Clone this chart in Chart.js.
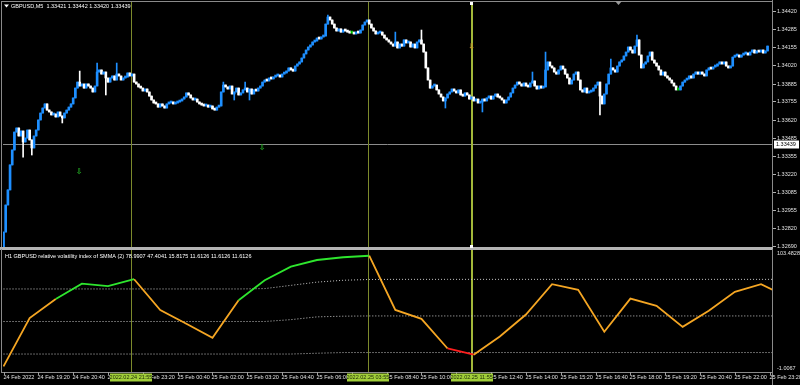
<!DOCTYPE html>
<html>
<head>
<meta charset="utf-8">
<script src="https://cdn.jsdelivr.net/npm/chart.js@4.4.1/dist/chart.umd.min.js"></script>
<style>
  html, body { margin: 0; padding: 0; background: #000; }
  #wrap { position: relative; width: 800px; height: 385px; overflow: hidden; background: #000; }
  #priceChart { position: absolute; left: 0; top: 0; }
  #rviChart { position: absolute; left: 0; top: 249px; }
</style>
</head>
<body>
<div id="wrap">
  <canvas id="priceChart" width="800" height="249"></canvas>
  <canvas id="rviChart" width="800" height="136"></canvas>
</div>
<script>
// GBPUSD M5 closes, 24 Feb 18:00 -> 25 Feb 23:15
const closes = [
  1.32793, 1.32992, 1.33103, 1.33287, 1.33397, 1.33529, 1.33559, 1.33500, 1.33537, 1.33456,
  1.33485, 1.33544, 1.33471, 1.33412, 1.33500, 1.33544, 1.33618, 1.33669, 1.33706, 1.33736,
  1.33691, 1.33677, 1.33655, 1.33662, 1.33640, 1.33677, 1.33647, 1.33633, 1.33669, 1.33691,
  1.33713, 1.33736, 1.33780, 1.33853, 1.33897, 1.33868, 1.33883, 1.33853, 1.33883, 1.33868,
  1.33853, 1.33824, 1.33868, 1.33971, 1.33986, 1.33956, 1.33971, 1.33927, 1.33897, 1.33927,
  1.33942, 1.33912, 1.33956, 1.33942, 1.33912, 1.33927, 1.33934, 1.33964, 1.33942, 1.33956,
  1.33897, 1.33883, 1.33861, 1.33853, 1.33831, 1.33846, 1.33824, 1.33794, 1.33765, 1.33743,
  1.33736, 1.33713, 1.33736, 1.33721, 1.33706, 1.33736, 1.33743, 1.33750, 1.33736, 1.33743,
  1.33750, 1.33758, 1.33772, 1.33787, 1.33817, 1.33802, 1.33780, 1.33765, 1.33772, 1.33750,
  1.33736, 1.33728, 1.33721, 1.33728, 1.33713, 1.33721, 1.33699, 1.33691, 1.33713, 1.33721,
  1.33824, 1.33875, 1.33861, 1.33846, 1.33868, 1.33809, 1.33824, 1.33853, 1.33802, 1.33817,
  1.33839, 1.33853, 1.33824, 1.33846, 1.33809, 1.33839, 1.33831, 1.33853, 1.33868, 1.33897,
  1.33912, 1.33905, 1.33927, 1.33920, 1.33934, 1.33942, 1.33949, 1.33934, 1.33956, 1.33964,
  1.33978, 1.34001, 1.33986, 1.33978, 1.34015, 1.34030, 1.34045, 1.34074, 1.34104, 1.34133,
  1.34155, 1.34170, 1.34192, 1.34199, 1.34221, 1.34214, 1.34229, 1.34236, 1.34324, 1.34376,
  1.34354, 1.34324, 1.34295, 1.34273, 1.34288, 1.34265, 1.34280, 1.34273, 1.34265, 1.34258,
  1.34258, 1.34251, 1.34265, 1.34258, 1.34280, 1.34317, 1.34339, 1.34354, 1.34324, 1.34295,
  1.34273, 1.34251, 1.34258, 1.34265, 1.34243, 1.34221, 1.34207, 1.34192, 1.34177, 1.34162,
  1.34192, 1.34148, 1.34177, 1.34162, 1.34207, 1.34185, 1.34192, 1.34155, 1.34177, 1.34148,
  1.34192, 1.34207, 1.34177, 1.34118, 1.34001, 1.33912, 1.33853, 1.33868, 1.33875, 1.33839,
  1.33809, 1.33787, 1.33758, 1.33780, 1.33809, 1.33824, 1.33846, 1.33831, 1.33817, 1.33839,
  1.33802, 1.33794, 1.33817, 1.33802, 1.33772, 1.33787, 1.33758, 1.33772, 1.33743, 1.33750,
  1.33772, 1.33758, 1.33780, 1.33794, 1.33772, 1.33794, 1.33809, 1.33787, 1.33780, 1.33765,
  1.33743, 1.33765, 1.33787, 1.33817, 1.33853, 1.33875, 1.33897, 1.33883, 1.33868, 1.33890,
  1.33868, 1.33861, 1.33890, 1.33905, 1.33868, 1.33846, 1.33868, 1.33853, 1.33861, 1.33986,
  1.34045, 1.34015, 1.34001, 1.33971, 1.33956, 1.33986, 1.34015, 1.33993, 1.33956, 1.33927,
  1.33883, 1.33912, 1.33956, 1.33971, 1.33912, 1.33839, 1.33824, 1.33853, 1.33817, 1.33824,
  1.33831, 1.33853, 1.33875, 1.33897, 1.33794, 1.33736, 1.33809, 1.33883, 1.33956, 1.34001,
  1.33986, 1.33971, 1.34015, 1.34045, 1.34059, 1.34089, 1.34118, 1.34155, 1.34133, 1.34111,
  1.34162, 1.34207, 1.34096, 1.34001, 1.34030, 1.34045, 1.34089, 1.34118, 1.34059, 1.34037,
  1.34015, 1.33986, 1.33949, 1.33971, 1.33942, 1.33927, 1.33912, 1.33890, 1.33868, 1.33839,
  1.33839, 1.33868, 1.33897, 1.33912, 1.33920, 1.33942, 1.33927, 1.33956, 1.33971, 1.33956,
  1.33971, 1.33956, 1.33942, 1.33986, 1.34001, 1.33993, 1.34008, 1.34015, 1.34030, 1.34045,
  1.34030, 1.34045, 1.34015, 1.34001, 1.34015, 1.34081, 1.34089, 1.34096, 1.34081, 1.34096,
  1.34104, 1.34111, 1.34096, 1.34118, 1.34133, 1.34111, 1.34126, 1.34118, 1.34133, 1.34111,
  1.34126, 1.34162
];
const firstOpen = 1.32676;
// longer wicks that stick out of the bodies: [bar, price]
const wickUp = [[35, 1.33978], [43, 1.34037], [52, 1.34037], [101, 1.33897], [111, 1.33897], [149, 1.34391],
  [180, 1.34265], [192, 1.34280], [243, 1.33971], [249, 1.34118], [279, 1.34067], [291, 1.34243]];
const wickDown = [[9, 1.33345], [13, 1.33360], [27, 1.33596], [47, 1.33802], [106, 1.33765], [113, 1.33765],
  [203, 1.33706], [220, 1.33677], [274, 1.33655]];

const priceTicks = [1.34420, 1.34285, 1.34155, 1.34020, 1.33885, 1.33755, 1.33620, 1.33485,
  1.33355, 1.33220, 1.33085, 1.32955, 1.32820, 1.32690];
const priceMin = 1.32683, priceMax = 1.34479;
const lastPrice = 1.33439;
const titleText = 'GBPUSD,M5  1.33421 1.33442 1.33420 1.33439';

// H1 relative volatility index, one value per hour from 24 Feb 18:00
const rviHours = [0, 1, 2, 3, 4, 5, 6, 7, 8, 9, 10, 11, 12, 13, 14, 15, 16, 17, 18, 19, 20, 21, 22, 23, 24, 25, 26, 27, 28, 29, 30];
const rviValues = [3.8, 45.5, 62.1, 75.3, 73.1, 79.1, 52.4, 40.6, 28.5, 61.0, 78.2, 90.0, 95.7, 98.1, 99.4, 52.6,
  44.9, 19.3, 13.9, 29.6, 48.6, 74.8, 69.9, 33.7, 62.4, 56.1, 38.0, 51.8, 68.2, 74.8, 63.8];
const rviState = ['n', 'n', 'up', 'up', 'up', 'n', 'n', 'n', 'n', 'up', 'up', 'up', 'up', 'up', 'n', 'n',
  'n', 'dn', 'n', 'n', 'n', 'n', 'n', 'n', 'n', 'n', 'n', 'n', 'n', 'n', 'n'];
const bandUpper = [70.7, 70.7, 70.7, 70.7, 70.7, 70.7, 70.7, 70.7, 70.7, 70.7, 71.0, 73.8, 76.6, 78.2, 78.9, 79.0,
  79.0, 79.0, 79.0, 79.0, 79.0, 79.0, 79.0, 79.0, 79.0, 79.0, 79.0, 79.0, 79.0, 79.0, 79.0];
const bandMiddle = [42.6, 42.6, 42.6, 42.6, 42.6, 42.6, 42.6, 42.6, 42.6, 42.6, 42.6, 44.2, 46.6, 47.2, 47.4, 47.4,
  47.4, 47.4, 47.4, 47.4, 47.4, 47.4, 47.4, 47.4, 47.4, 47.4, 47.4, 47.4, 47.4, 47.4, 47.4];
const bandLower = [14.5, 14.5, 14.5, 14.5, 14.5, 14.5, 14.5, 14.5, 14.5, 14.5, 14.5, 14.5, 15.2, 15.8, 15.8, 15.8,
  15.8, 15.8, 15.8, 15.8, 15.8, 15.8, 15.8, 15.8, 15.8, 15.8, 15.8, 15.8, 15.8, 15.8, 15.8];
const rviMin = -1.0067, rviMax = 103.4828;
const rviTitle = 'H1 GBPUSD relative volatility index of SMMA (2) 78.9907 47.4041 15.8175 11.6126 11.6126 11.6126';

const timeLabels = ['24 Feb 2022', '24 Feb 19:20', '24 Feb 20:40', '24 Feb 22:00', '24 Feb 23:20', '25 Feb 00:40',
  '25 Feb 02:00', '25 Feb 03:20', '25 Feb 04:40', '25 Feb 06:00', '25 Feb 07:20', '25 Feb 08:40', '25 Feb 10:00',
  '25 Feb 11:20', '25 Feb 12:40', '25 Feb 14:00', '25 Feb 15:20', '25 Feb 16:40', '25 Feb 18:00', '25 Feb 19:20',
  '25 Feb 20:40', '25 Feb 22:00', '25 Feb 23:20'];
const timeLabelHours = [0, 1.333, 2.667, 4, 5.333, 6.667, 8, 9.333, 10.667, 12, 13.333, 14.667, 16, 17.333,
  18.667, 20, 21.333, 22.667, 24, 25.333, 26.667, 28, 29.333];

// vertical line objects
const vLineHours = [4.88, 13.95, 17.92];
const vLineLabels = ['2022.02.24 21:55', '2022.02.25 03:55', '2022.02.25 11:55'];
// arrow objects [hour, price]
const buyArrows = [[2.89, 1.33235], [9.90, 1.33412]];
const sellArrows = [[17.92, 1.34155]];

const xMin = -0.02, xMax = 29.42;
const FONT = '5.5px "Liberation Sans", Arial, sans-serif';
const BULL = '#1e8fff', BEAR = '#ffffff', DOJI = '#00c000';

let opens = closes.map((c, i) => i === 0 ? firstOpen : closes[i - 1]);
let highs = closes.map((c, i) => Math.max(c, opens[i]));
let lows = closes.map((c, i) => Math.min(c, opens[i]));
wickUp.forEach(w => { highs[w[0]] = Math.max(highs[w[0]], w[1]); });
wickDown.forEach(w => { lows[w[0]] = Math.min(lows[w[0]], w[1]); });
let barHours = closes.map((c, i) => i * 5 / 60);
let candleColors = closes.map((c, i) => c > opens[i] ? BULL : (c < opens[i] ? BEAR : DOJI));

function hline(ctx, x1, x2, y) {
  ctx.beginPath(); ctx.moveTo(x1, y); ctx.lineTo(x2, y); ctx.stroke();
}
function vline(ctx, x, y1, y2) {
  ctx.beginPath(); ctx.moveTo(x, y1); ctx.lineTo(x, y2); ctx.stroke();
}
function drawVLines(ctx, xs, top, bottom) {
  vLineHours.forEach((h, i) => {
    let px = Math.round(xs.getPixelForValue(h));
    ctx.strokeStyle = i === 2 ? '#a3b83a' : '#7c8a2c';
    ctx.lineWidth = i === 2 ? 2 : 1;
    vline(ctx, i === 2 ? px : px + 0.5, top, bottom);
  });
}

let priceDecor = {
  id: 'priceDecor',
  beforeDatasetsDraw(chart) {
    let ctx = chart.ctx, a = chart.chartArea;
    ctx.save();
    ctx.strokeStyle = '#8c8c8c';
    ctx.lineWidth = 1;
    let yc = Math.round(chart.scales.y.getPixelForValue(lastPrice)) + 0.5;
    hline(ctx, a.left, a.right, yc);
    drawVLines(ctx, chart.scales.x, 2, 249);
    ctx.restore();
  },
  afterDraw(chart) {
    let ctx = chart.ctx, a = chart.chartArea, xs = chart.scales.x, ys = chart.scales.y;
    ctx.save();
    // frame and axis line
    ctx.strokeStyle = '#8a8a8a';
    ctx.lineWidth = 1;
    hline(ctx, 1, 773, 1.5);
    vline(ctx, 1.5, 1, 249);
    vline(ctx, 772.5, 0, 249);
    ctx.fillStyle = '#b4b4b4';
    ctx.fillRect(0, 247, 773, 2);

    // price axis
    ctx.font = FONT;
    ctx.textBaseline = 'middle';
    ctx.textAlign = 'left';
    priceTicks.forEach(v => {
      let y = Math.round(ys.getPixelForValue(v)) + 0.5;
      ctx.strokeStyle = '#b0b0b0';
      hline(ctx, 773, 776, y);
      ctx.fillStyle = '#e0e0e0';
      ctx.fillText(v.toFixed(5), 777, y);
    });
    let yc = Math.round(ys.getPixelForValue(lastPrice)) + 0.5;
    ctx.fillStyle = '#ffffff';
    ctx.fillRect(774, yc - 4, 25, 8);
    ctx.fillStyle = '#000000';
    ctx.fillText(lastPrice.toFixed(5), 776, yc);

    // title
    ctx.fillStyle = '#ffffff';
    ctx.beginPath();
    ctx.moveTo(4, 4.5); ctx.lineTo(9, 4.5); ctx.lineTo(6.5, 7.5); ctx.closePath(); ctx.fill();
    ctx.fillText(titleText, 11, 6.5);

    // chart shift marker
    ctx.fillStyle = '#9a9a9a';
    ctx.beginPath();
    ctx.moveTo(615, 1); ctx.lineTo(622, 1); ctx.lineTo(618.5, 5); ctx.closePath(); ctx.fill();

    // arrows
    ctx.font = 'bold 8px "DejaVu Sans", sans-serif';
    ctx.textAlign = 'center';
    ctx.fillStyle = '#22a822';
    buyArrows.forEach(p => ctx.fillText('\u21e9', xs.getPixelForValue(p[0]), ys.getPixelForValue(p[1])));
    ctx.fillStyle = '#c08a22';
    sellArrows.forEach(p => ctx.fillText('\u21e9', xs.getPixelForValue(p[0]), ys.getPixelForValue(p[1])));

    // selection handles of the active vertical line
    let px = Math.round(xs.getPixelForValue(vLineHours[2]));
    ctx.fillStyle = '#ffffff';
    ctx.fillRect(px - 2, 2, 3, 3);
    ctx.fillRect(px - 2, 245, 3, 3);
    ctx.restore();
  }
};

new Chart(document.getElementById('priceChart'), {
  type: 'bar',
  data: {
    datasets: [{
      label: 'wicks',
      data: barHours.map((h, i) => ({ x: h, y: [lows[i], highs[i]] })),
      backgroundColor: candleColors,
      barThickness: 1,
      grouped: false,
      borderWidth: 0
    }, {
      label: 'bodies',
      data: barHours.map((h, i) => ({ x: h, y: [opens[i], closes[i]] })),
      backgroundColor: candleColors,
      barThickness: 2,
      minBarLength: 2,
      grouped: false,
      borderWidth: 0
    }]
  },
  options: {
    responsive: false,
    animation: false,
    devicePixelRatio: 1,
    events: [],
    layout: { padding: { left: 3, right: 28, top: 3, bottom: 2 } },
    plugins: { legend: { display: false }, tooltip: { enabled: false } },
    scales: {
      x: { type: 'linear', min: xMin, max: xMax, offset: false, display: false },
      y: { min: priceMin, max: priceMax, display: false }
    }
  },
  plugins: [priceDecor]
});

let rviDecor = {
  id: 'rviDecor',
  beforeDatasetsDraw(chart) {
    let ctx = chart.ctx;
    ctx.save();
    drawVLines(ctx, chart.scales.x, 0, chart.chartArea.bottom);
    ctx.restore();
  },
  afterDraw(chart) {
    let ctx = chart.ctx, a = chart.chartArea, xs = chart.scales.x;
    ctx.save();
    ctx.fillStyle = '#b4b4b4';
    ctx.fillRect(0, 0, 773, 1);
    ctx.strokeStyle = '#8a8a8a';
    ctx.lineWidth = 1;
    vline(ctx, 1.5, 0, a.bottom + 1);
    vline(ctx, 772.5, 0, 136);
    hline(ctx, 1, 773, a.bottom + 0.5);

    ctx.font = FONT;
    ctx.textBaseline = 'middle';
    ctx.textAlign = 'left';
    ctx.fillStyle = '#ffffff';
    ctx.fillText(rviTitle, 5, 7);
    ctx.fillStyle = '#e0e0e0';
    ctx.fillText(rviMax.toFixed(4), 777, 4.5);
    ctx.fillText(rviMin.toFixed(4), 777, a.bottom - 4);

    // time axis
    let ty = a.bottom + 5.5;
    timeLabels.forEach((t, i) => {
      let px = Math.round(xs.getPixelForValue(timeLabelHours[i])) + 0.5;
      ctx.strokeStyle = '#a0a0a0';
      vline(ctx, px, a.bottom, a.bottom + 3);
      ctx.fillStyle = '#e0e0e0';
      ctx.fillText(t, px - 1, ty);
    });
    ctx.textAlign = 'center';
    vLineHours.forEach((h, i) => {
      let px = xs.getPixelForValue(h);
      ctx.fillStyle = '#a2cf3a';
      ctx.fillRect(Math.round(px - 21), a.bottom + 1.5, 42, 8);
      ctx.fillStyle = '#1c2a08';
      ctx.fillText(vLineLabels[i], px, ty);
    });
    ctx.restore();
  }
};

let segColors = { n: '#f5a623', up: '#2ee62e', dn: '#ff1e1e' };
let band = vals => ({
  data: rviHours.map((h, i) => ({ x: h, y: vals[i] })),
  borderColor: '#c8c8c8',
  borderWidth: 1,
  borderDash: [1, 2],
  pointRadius: 0
});

new Chart(document.getElementById('rviChart'), {
  type: 'line',
  data: {
    datasets: [{
      label: 'RVI',
      data: rviHours.map((h, i) => ({ x: h, y: rviValues[i] })),
      borderColor: segColors.n,
      borderWidth: 1.8,
      pointRadius: 0,
      segment: { borderColor: c => segColors[rviState[c.p0DataIndex]] }
    }, band(bandUpper), band(bandMiddle), band(bandLower)]
  },
  options: {
    responsive: false,
    animation: false,
    devicePixelRatio: 1,
    events: [],
    layout: { padding: { left: 3, right: 28, top: 2, bottom: 13 } },
    plugins: { legend: { display: false }, tooltip: { enabled: false } },
    scales: {
      x: { type: 'linear', min: xMin, max: xMax, display: false },
      y: { min: rviMin, max: rviMax, display: false }
    }
  },
  plugins: [rviDecor]
});
</script>
</body>
</html>
